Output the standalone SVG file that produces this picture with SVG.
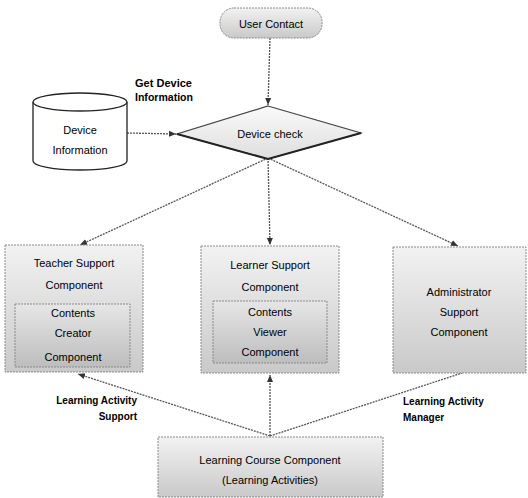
<svg xmlns="http://www.w3.org/2000/svg" width="528" height="498" viewBox="0 0 528 498">
<style>
.t{font-family:"Liberation Sans",Arial,sans-serif;font-size:11px;fill:#000;text-anchor:middle}
.b{font-family:"Liberation Sans",Arial,sans-serif;font-size:10px;font-weight:bold;fill:#000}
.box{fill:url(#g);stroke:#8a8a8a;stroke-width:1;stroke-dasharray:2 1}
.inner{fill:url(#g2);stroke:#8a8a8a;stroke-width:1;stroke-dasharray:2 1}
.c{fill:none;stroke:#555;stroke-width:1.3;stroke-dasharray:2 1}
</style>
<defs>
<linearGradient id="g" x1="0" y1="0" x2="0" y2="1"><stop offset="0" stop-color="#f2f2f2"/><stop offset="1" stop-color="#c9c9c9"/></linearGradient>
<linearGradient id="g2" x1="0" y1="0" x2="0" y2="1"><stop offset="0" stop-color="#e6e6e6"/><stop offset="1" stop-color="#bdbdbd"/></linearGradient>
<linearGradient id="g3" x1="0" y1="0" x2="0" y2="1"><stop offset="0" stop-color="#fafafa"/><stop offset="1" stop-color="#dedede"/></linearGradient>
<marker id="a" markerWidth="8" markerHeight="8" refX="7" refY="4" orient="auto" markerUnits="userSpaceOnUse"><path d="M0,1 L7,4 L0,7 Z" fill="#333"/></marker>
</defs>
<g id="connectors">
<path class="c" d="M270,38 L268,105" marker-end="url(#a)"/>
<path class="c" d="M127,133 L176,134" marker-end="url(#a)"/>
<path class="c" d="M268,158 L80,245" marker-end="url(#a)"/>
<path class="c" d="M268,158 L270,245" marker-end="url(#a)"/>
<path class="c" d="M268,158 L458,246" marker-end="url(#a)"/>
<path class="c" d="M270,436 L78,374" marker-end="url(#a)"/>
<path class="c" d="M270,436 L270,375" marker-end="url(#a)"/>
<path class="c" d="M270,436 L462,373"/>
</g>
<g id="user-contact">
<rect x="220" y="8" width="102" height="30" rx="14" class="box"/>
<text class="t" x="271" y="28">User Contact</text>
</g>
<g id="device-check">
<path d="M268,106 L361,133 L268,159 L177,134 Z" fill="url(#g3)" stroke="#444" stroke-width="1.2"/>
<path d="M361,133 L268,159 L177,134" fill="none" stroke="#222" stroke-width="2"/>
<text class="t" x="270" y="138">Device check</text>
</g>
<g id="device-information">
<path d="M33,102 L33,161 A47,9 0 0 0 127,161 L127,102" fill="#fff" stroke="#222" stroke-width="1.3"/>
<ellipse cx="80" cy="102" rx="47" ry="9" fill="#fff" stroke="#222" stroke-width="1.3"/>
<text class="t" x="80" y="134">Device</text>
<text class="t" x="80" y="154">Information</text>
</g>
<g id="get-device-label">
<text class="b" x="135" y="87" textLength="57" lengthAdjust="spacingAndGlyphs">Get Device</text>
<text class="b" x="135" y="101" textLength="58" lengthAdjust="spacingAndGlyphs">Information</text>
</g>
<g id="teacher-support">
<rect x="5" y="245" width="138" height="127" class="box"/>
<text class="t" x="74" y="267">Teacher Support</text>
<text class="t" x="74" y="289">Component</text>
<rect x="15" y="304" width="115" height="63" class="inner"/>
<text class="t" x="73" y="317">Contents</text>
<text class="t" x="73" y="337">Creator</text>
<text class="t" x="73" y="361">Component</text>
</g>
<g id="learner-support">
<rect x="201" y="246" width="138" height="127" class="box"/>
<text class="t" x="270" y="269">Learner Support</text>
<text class="t" x="270" y="291">Component</text>
<rect x="213" y="301" width="114" height="62" class="inner"/>
<text class="t" x="270" y="316">Contents</text>
<text class="t" x="270" y="336">Viewer</text>
<text class="t" x="270" y="356">Component</text>
</g>
<g id="administrator-support">
<rect x="393" y="247" width="133" height="126" class="box"/>
<text class="t" x="459" y="296">Administrator</text>
<text class="t" x="459" y="316">Support</text>
<text class="t" x="459" y="336">Component</text>
</g>
<g id="learning-course">
<rect x="158" y="437" width="225" height="60" class="box"/>
<text class="t" x="270" y="464">Learning Course Component</text>
<text class="t" x="270" y="484">(Learning Activities)</text>
</g>
<g id="labels">
<text class="b" x="137" y="404" text-anchor="end">Learning Activity</text>
<text class="b" x="137" y="420" text-anchor="end">Support</text>
<text class="b" x="403" y="405">Learning Activity</text>
<text class="b" x="403" y="421">Manager</text>
</g>
</svg>
